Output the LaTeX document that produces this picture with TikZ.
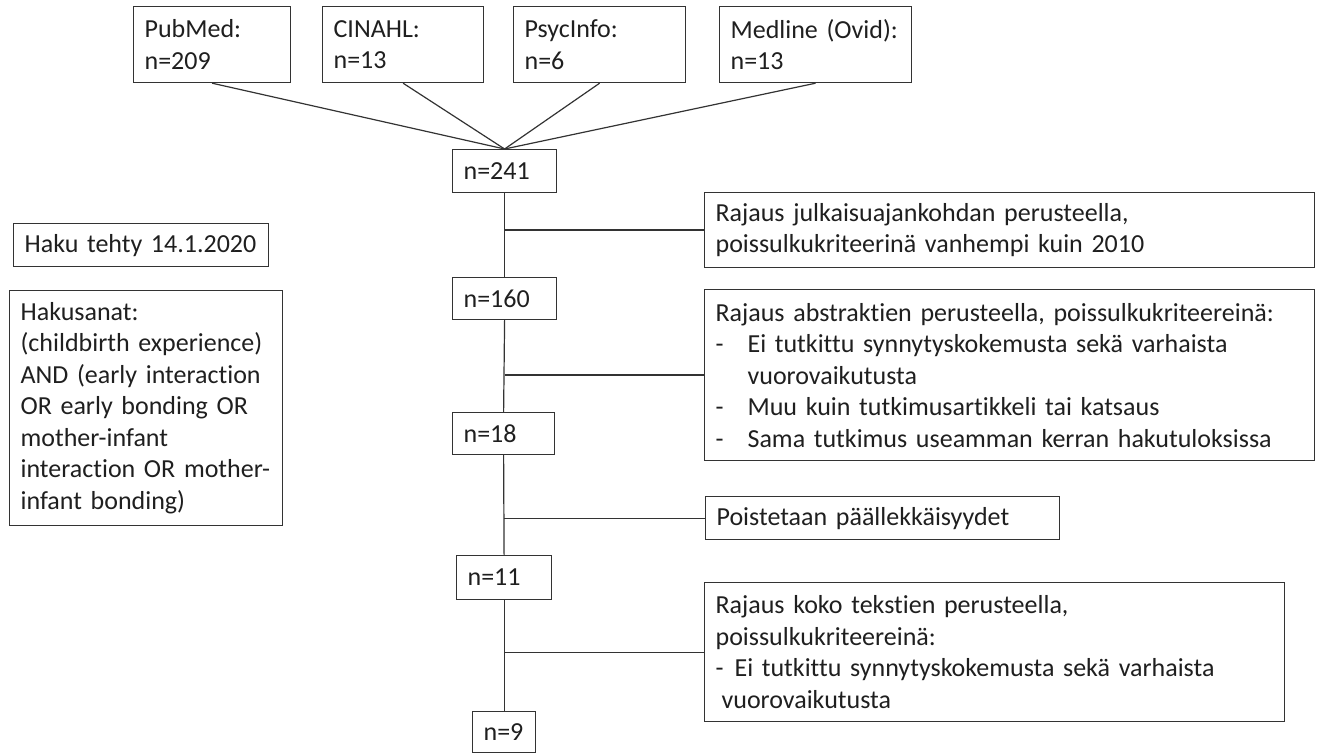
\documentclass[tikz,border=0pt]{standalone}
\usepackage{fontspec}
\setmainfont{Carlito}[Ligatures={NoCommon,NoContextual}]
\usepackage{tikz}
\usetikzlibrary{positioning}
\tikzset{
  bx/.style 2 args={draw=black!80, line width=0.6pt, anchor=north west,
    align=left, inner xsep=5.5pt, inner ysep=0pt,
    text width={(#1)*0.5pt-11pt}, minimum height={(#2)*0.5pt},
    text=black!88, font=\fontsize{13}{15.75}\selectfont},
  link/.style={draw=black!80, line width=0.6pt}
}
\newcommand{\dsh}{\makebox[16pt][l]{-}}

\begin{document}
\begin{tikzpicture}[x=0.5pt, y=-0.5pt]
  \useasboundingbox (0,0) rectangle (1317,753);

  % databases
  \node[bx={157}{76}] (pub) at (133,6) {PubMed:\\n=209};
  \node[bx={161}{76}] (cin) at (322,6) {CINAHL:\\n=13};
  \node[bx={172}{76}] (psy) at (513,6) {PsycInfo:\\n=6};
  \node[bx={192}{76}] (med) at (719,6) {Medline (Ovid):\\n=13};

  % search info
  \node[bx={255}{43}] (haku) at (13,223) {Haku tehty 14.1.2020};
  \node[bx={273}{235}] (sanat) at (9,290)
    {Hakusanat:\\(childbirth experience)\\AND (early interaction\\OR early bonding OR\\mother-infant\\interaction OR mother-\\infant bonding)};

  % counts
  \node[bx={104}{43}] (n241) at (452,149) {n=241};
  \node[bx={104}{42}] (n160) at (452,277) {n=160};
  \node[bx={102}{42}] (n18) at (452,412) {n=18};
  \node[bx={95}{44}] (n11) at (456,555) {n=11};
  \node[bx={63}{41}] (n9) at (472,711) {n=9};

  % exclusions
  \node[bx={610}{75}] (rj1) at (704,192)
    {Rajaus julkaisuajankohdan perusteella,\\poissulkukriteerinä vanhempi kuin 2010};
  \node[bx={610}{171}] (rj2) at (704,289)
    {Rajaus abstraktien perusteella, poissulkukriteereinä:\\
     \dsh Ei tutkittu synnytyskokemusta sekä varhaista\\
     \hspace*{16pt}vuorovaikutusta\\
     \dsh Muu kuin tutkimusartikkeli tai katsaus\\
     \dsh Sama tutkimus useamman kerran hakutuloksissa};
  \node[bx={354}{43}] (poi) at (705,496) {Poistetaan päällekkäisyydet};
  \node[bx={580}{139}] (rj3) at (704,582)
    {Rajaus koko tekstien perusteella,\\poissulkukriteereinä:\\
     \makebox[9.5pt][l]{-}Ei tutkittu synnytyskokemusta sekä varhaista\\
     \hspace*{3pt}vuorovaikutusta};

  \foreach \db in {pub,cin,psy,med}
    \draw[link] (\db.south) -- (n241.north);

  \draw[link] (n241.south) -- (n160.north);
  \draw[link] (n160.south) -- (n18.north);
  \draw[link] (n18.south) -- (n11.north);
  \draw[link] (n11.south) -- (n9.north);

  \draw[link] (rj1.west -| n241.south) -- (rj1.west);
  \draw[link] (rj2.west -| n160.south) -- (rj2.west);
  \draw[link] (poi.west -| n18.south) -- (poi.west);
  \draw[link] (rj3.west -| n11.south) -- (rj3.west);
\end{tikzpicture}
\end{document}
